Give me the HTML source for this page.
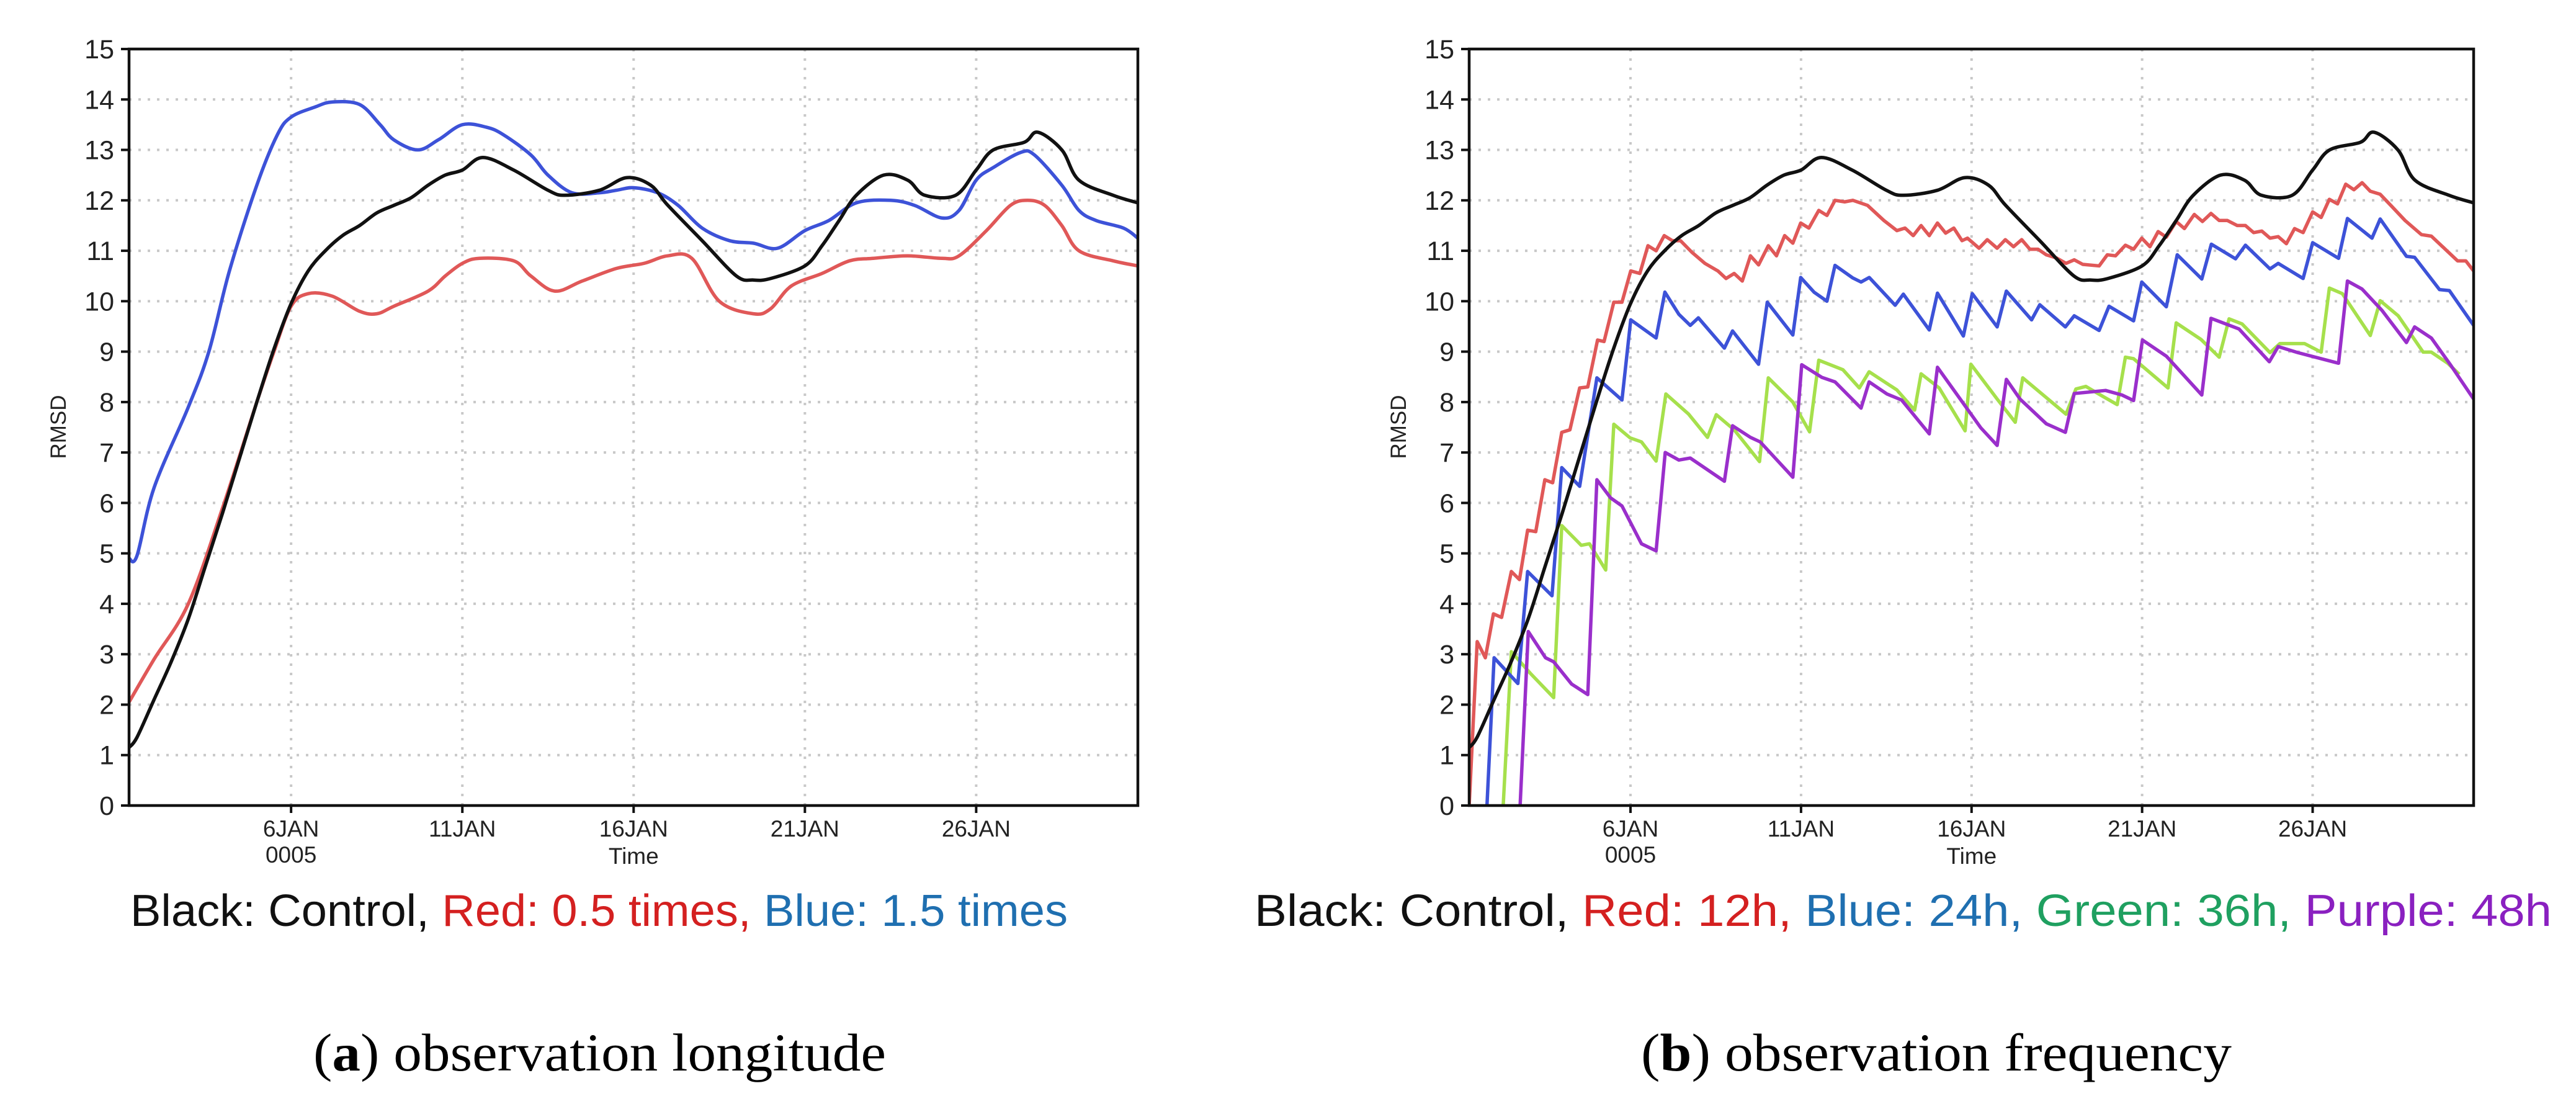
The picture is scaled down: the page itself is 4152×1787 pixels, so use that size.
<!DOCTYPE html>
<html><head><meta charset="utf-8"><style>
html,body{margin:0;padding:0;background:#fff;}
svg{display:block;}
</style></head><body>
<svg id="fig" width="4152" height="1787" viewBox="0 0 4152 1787" xmlns="http://www.w3.org/2000/svg">
<rect width="4152" height="1787" fill="#fff"/>
<g id="panelA"></g>
<g id="panelB"></g>
<text x="210" y="1492" font-family="Liberation Sans, sans-serif" font-size="72" textLength="1511" lengthAdjust="spacingAndGlyphs"><tspan fill="#111">Black: Control, </tspan><tspan fill="#d42020">Red: 0.5 times, </tspan><tspan fill="#1f6fb0">Blue: 1.5 times</tspan></text>
<text x="2022" y="1492" font-family="Liberation Sans, sans-serif" font-size="72" textLength="2091" lengthAdjust="spacingAndGlyphs"><tspan fill="#111">Black: Control, </tspan><tspan fill="#d42020">Red: 12h, </tspan><tspan fill="#1f6fb0">Blue: 24h, </tspan><tspan fill="#1fa060">Green: 36h, </tspan><tspan fill="#8a20c0">Purple: 48h</tspan></text>
<text x="505" y="1725" font-family="Liberation Serif, serif" font-size="86" fill="#000" textLength="923" lengthAdjust="spacingAndGlyphs">(<tspan font-weight="bold">a</tspan>) observation longitude</text>
<text x="2645" y="1725" font-family="Liberation Serif, serif" font-size="86" fill="#000" textLength="952" lengthAdjust="spacingAndGlyphs">(<tspan font-weight="bold">b</tspan>) observation frequency</text>
</svg>
<script>
// ---- shared axis data ----
const yTicks = [0,1,2,3,4,5,6,7,8,9,10,11,12,13,14,15];
const xTickDays = [6,11,16,21,26];
const xTickLabels = ["6JAN","11JAN","16JAN","21JAN","26JAN"];
const xDomain = [1.27, 30.72];
const yDomain = [0, 15];

// ---- control (black), used in both panels ----
const ctrlDays = [1.27,1.5,2,2.5,3,3.5,4,4.5,5,5.5,6,6.5,7,7.5,8,8.5,9,9.5,10,10.5,11,11.6,12.5,13.5,14,15,15.8,16.5,17,18,19,19.5,20,21,21.5,22,22.5,23.3,24,24.5,25.4,26,26.5,27.4,27.8,28.5,29,30,30.72];
const ctrlVals = [1.15,1.35,2.1,2.85,3.7,4.75,5.8,6.9,8.0,9.05,9.95,10.6,11.0,11.3,11.5,11.75,11.9,12.05,12.3,12.5,12.6,12.85,12.6,12.2,12.1,12.2,12.45,12.3,11.9,11.2,10.5,10.42,10.45,10.7,11.1,11.6,12.1,12.5,12.4,12.1,12.1,12.6,13.0,13.15,13.35,13.0,12.4,12.1,11.95];

// ---- panel a ----
const redADays = [1.27,2,3,4,5,5.5,6,6.5,7.2,8,8.5,9,10,10.5,11,11.5,12.5,13,13.7,14.5,15.5,16.3,17,17.7,18.5,19.5,20,20.6,21.5,22.3,23,24,25,25.5,26.3,27,27.5,28,28.5,29,30,30.72];
const redAVals = [2.05,2.9,4.0,5.9,8.0,9.0,9.9,10.15,10.1,9.8,9.75,9.9,10.2,10.5,10.75,10.85,10.8,10.5,10.2,10.4,10.65,10.75,10.9,10.85,10.0,9.75,9.85,10.3,10.55,10.8,10.85,10.9,10.85,10.9,11.4,11.9,12.0,11.9,11.5,11.0,10.8,10.7];
const blueADays = [1.27,1.5,2,3,3.6,4.2,5,5.6,6,6.7,7.2,8,8.6,9,9.7,10.3,11,11.7,12.2,13,13.5,14.2,15,15.5,16,16.7,17.3,18,18.8,19.5,20.2,21,21.7,22.5,23.5,24.2,25,25.5,26,26.5,27.3,27.7,28.5,29,29.5,30.3,30.72];
const blueAVals = [4.9,4.95,6.3,7.9,9.0,10.6,12.3,13.3,13.65,13.85,13.95,13.9,13.5,13.2,13.0,13.2,13.5,13.45,13.3,12.9,12.5,12.15,12.15,12.2,12.25,12.15,11.9,11.45,11.2,11.15,11.05,11.4,11.6,11.95,12.0,11.9,11.65,11.8,12.4,12.65,12.95,12.9,12.3,11.8,11.6,11.45,11.25];

// ---- panel b ----
const red12Days = [1.27,1.505,1.744,1.982,2.221,2.507,2.745,2.984,3.222,3.489,3.718,3.985,4.224,4.51,4.748,5.034,5.225,5.511,5.75,6.007,6.274,6.512,6.751,6.989,7.228,7.466,7.8,8.181,8.563,8.801,9.04,9.278,9.517,9.755,10.04,10.28,10.52,10.76,10.99,11.23,11.52,11.76,11.996,12.28,12.52,12.95,13.43,13.81,14.05,14.29,14.52,14.76,15.0,15.24,15.48,15.72,15.88,16.22,16.46,16.75,16.99,17.23,17.47,17.71,17.95,18.19,18.48,18.77,19.01,19.26,19.74,19.98,20.22,20.51,20.75,20.99,21.23,21.47,21.71,22.0,22.24,22.53,22.77,23.02,23.26,23.5,23.79,24.03,24.27,24.51,24.75,24.99,25.23,25.47,25.72,26.0,26.25,26.49,26.73,26.97,27.21,27.45,27.69,27.98,28.32,28.71,29.19,29.48,29.81,30.25,30.49,30.72];
const red12Vals = [0,3.25,2.93,3.8,3.73,4.64,4.48,5.46,5.43,6.46,6.4,7.4,7.45,8.28,8.3,9.23,9.2,9.98,9.98,10.6,10.55,11.1,11.0,11.3,11.2,11.2,10.97,10.75,10.6,10.45,10.55,10.4,10.9,10.72,11.1,10.9,11.3,11.15,11.55,11.45,11.8,11.7,12.0,11.97,12.0,11.9,11.6,11.4,11.45,11.3,11.5,11.3,11.55,11.35,11.45,11.2,11.25,11.05,11.22,11.05,11.22,11.08,11.22,11.03,11.03,10.92,10.86,10.75,10.82,10.73,10.7,10.92,10.9,11.11,11.03,11.25,11.08,11.38,11.27,11.58,11.44,11.72,11.58,11.74,11.6,11.6,11.5,11.5,11.36,11.39,11.25,11.28,11.14,11.44,11.36,11.77,11.66,12.02,11.93,12.32,12.21,12.35,12.18,12.12,11.88,11.6,11.32,11.29,11.08,10.8,10.8,10.6];
const blue24Days = [1.792,2.001,2.698,2.984,3.699,3.985,4.51,5.015,5.75,6.007,6.751,7.008,7.418,7.752,7.99,8.753,8.992,9.755,10.01,10.76,10.99,11.38,11.76,11.996,12.52,12.76,13.0,13.76,14.0,14.76,15.0,15.76,16.02,16.75,17.02,17.76,18.0,18.75,19.01,19.74,20.03,20.75,20.99,21.71,22.03,22.75,23.03,23.74,24.03,24.75,24.99,25.72,26.0,26.76,27.02,27.74,27.98,28.75,28.99,29.72,30.01,30.72];
const blue24Vals = [0,2.93,2.42,4.64,4.16,6.7,6.33,8.48,8.04,9.63,9.27,10.18,9.74,9.52,9.67,9.07,9.41,8.75,9.98,9.33,10.47,10.18,10.0,10.71,10.46,10.38,10.47,9.92,10.14,9.43,10.16,9.31,10.15,9.49,10.2,9.63,9.93,9.49,9.71,9.42,9.9,9.61,10.38,9.89,10.92,10.44,11.13,10.84,11.11,10.64,10.75,10.45,11.16,10.85,11.64,11.25,11.63,10.89,10.87,10.23,10.21,9.52];
const green36Days = [2.268,2.507,3.079,3.747,3.985,4.557,4.796,5.273,5.511,5.988,6.322,6.751,7.037,7.705,8.258,8.515,9.04,9.783,10.04,10.76,11.25,11.52,12.23,12.71,12.997,13.81,14.33,14.52,15.05,15.81,15.98,16.75,17.28,17.5,18.77,19.06,19.35,19.83,20.27,20.51,20.75,21.76,22.0,22.73,23.26,23.55,23.93,24.75,25.04,25.76,26.25,26.49,26.87,27.69,27.98,28.51,29.24,29.48,29.96,30.3];
const green36Vals = [0,3.05,2.61,2.14,5.55,5.16,5.19,4.67,7.56,7.29,7.21,6.83,8.16,7.76,7.3,7.75,7.45,6.82,8.48,8.0,7.41,8.83,8.64,8.28,8.6,8.24,7.84,8.56,8.28,7.43,8.75,8.06,7.6,8.48,7.76,8.26,8.31,8.12,7.95,8.89,8.86,8.28,9.57,9.24,8.89,9.65,9.55,8.98,9.16,9.16,8.99,10.26,10.15,9.32,10.01,9.71,8.99,8.99,8.77,8.55];
const purple48Days = [2.764,3.003,3.508,3.747,4.271,4.748,5.015,5.416,5.75,6.322,6.751,7.018,7.418,7.752,8.753,8.992,9.517,9.803,10.76,11.02,11.61,11.996,12.76,12.997,13.52,13.95,14.76,15.0,16.27,16.75,17.02,17.42,18.19,18.75,19.01,19.93,20.41,20.75,21.01,21.71,22.75,23.02,23.84,24.73,24.99,25.57,26.76,27.02,27.45,28.03,28.75,28.99,29.48,30.06,30.72];
const purple48Vals = [0,3.45,2.93,2.85,2.41,2.2,6.46,6.1,5.94,5.19,5.05,7.0,6.85,6.89,6.43,7.53,7.3,7.21,6.51,8.74,8.49,8.4,7.88,8.4,8.16,8.04,7.37,8.69,7.49,7.14,8.45,8.06,7.57,7.4,8.17,8.23,8.14,8.03,9.23,8.91,8.14,9.66,9.45,8.8,9.1,8.98,8.77,10.4,10.24,9.82,9.18,9.49,9.27,8.72,8.06];

const NS = "http://www.w3.org/2000/svg";
function mk(tag, attrs, parent){ const e=document.createElementNS(NS,tag); for(const k in attrs) e.setAttribute(k,attrs[k]); parent.appendChild(e); return e; }

function drawPanel(g, X0, X1, Y0, Y1, series){
  const sx = d => X0 + (d - xDomain[0])/(xDomain[1]-xDomain[0])*(X1-X0);
  const sy = v => Y1 - (v - yDomain[0])/(yDomain[1]-yDomain[0])*(Y1-Y0);
  const cid = "clip"+X0;
  const defs = mk("defs",{},g);
  const cp = mk("clipPath",{id:cid},defs);
  mk("rect",{x:X0,y:Y0,width:X1-X0,height:Y1-Y0},cp);
  const grid = mk("g",{},g);
  
  
  yTicks.forEach(t=>{ if(t===0||t===15) return;
    const l=mk("line",{x1:X0,x2:X1,y1:sy(t),y2:sy(t),stroke:"#c8c8c8","stroke-width":4,"stroke-dasharray":"4 11"},grid);
    
    
  });
  xTickDays.forEach(d=>{
    const l=mk("line",{x1:sx(d),x2:sx(d),y1:Y0,y2:Y1,stroke:"#c8c8c8","stroke-width":4,"stroke-dasharray":"4 11"},grid);
    
    
  });
  series.forEach(s=>{
    let d="";
    if(s.smooth){
      const P = s.days.map((x,i)=>[sx(x),sy(s.vals[i])]);
      d = "M"+P[0][0]+","+P[0][1];
      for(let i=0;i<P.length-1;i++){
        const p0=P[Math.max(0,i-1)],p1=P[i],p2=P[i+1],p3=P[Math.min(P.length-1,i+2)];
        const c1=[p1[0]+(p2[0]-p0[0])/6,p1[1]+(p2[1]-p0[1])/6];
        const c2=[p2[0]-(p3[0]-p1[0])/6,p2[1]-(p3[1]-p1[1])/6];
        d+=" C"+c1[0]+","+c1[1]+" "+c2[0]+","+c2[1]+" "+p2[0]+","+p2[1];
      }
    } else {
      d = s.days.map((x,i)=>(i?"L":"M")+sx(x)+","+sy(s.vals[i])).join(" ");
    }
    const p = mk("path",{d:d,fill:"none",stroke:s.color,"stroke-width":5.5,"stroke-linejoin":"round","clip-path":"url(#"+cid+")"},g);
    
    
  });
  const fr = mk("rect",{x:X0,y:Y0,width:X1-X0,height:Y1-Y0,fill:"none",stroke:"#111","stroke-width":4.5},g);
  
  
  yTicks.forEach(t=>{
    mk("line",{x1:X0-13,x2:X0,y1:sy(t),y2:sy(t),stroke:"#111","stroke-width":4},g);
    const tx = mk("text",{x:X0-24,y:sy(t)+15,"text-anchor":"end","font-family":"Liberation Sans, sans-serif","font-size":43,fill:"#222"},g);
    tx.textContent = String(t);
    
    
  });
  xTickDays.forEach((d,i)=>{
    mk("line",{x1:sx(d),x2:sx(d),y1:Y1,y2:Y1+12,stroke:"#111","stroke-width":4},g);
    const tx = mk("text",{x:sx(d),y:1348,"text-anchor":"middle","font-family":"Liberation Sans, sans-serif","font-size":37,fill:"#222"},g);
    tx.textContent = xTickLabels[i];
    
    
  });
  const yr = mk("text",{x:sx(6),y:1390,"text-anchor":"middle","font-family":"Liberation Sans, sans-serif","font-size":37,fill:"#222"},g);
  yr.textContent="0005";
  
  
  const xt = mk("text",{x:sx(16),y:1392,"text-anchor":"middle","font-family":"Liberation Sans, sans-serif","font-size":37,fill:"#222"},g);
  xt.textContent="Time";
  
  
  const yt = mk("text",{x:0,y:0,"text-anchor":"middle","font-family":"Liberation Sans, sans-serif","font-size":35,fill:"#222",transform:"translate("+(X0-102)+",688) rotate(-90)"},g);
  yt.textContent="RMSD";
  
  
}

drawPanel(document.getElementById('panelA'), 208, 1834, 79, 1298, [
  {name:'line-red-0.5-times', days:redADays, vals:redAVals, color:'#e05858', smooth:true},
  {name:'line-blue-1.5-times', days:blueADays, vals:blueAVals, color:'#3d52d8', smooth:true},
  {name:'line-black-control', days:ctrlDays, vals:ctrlVals, color:'#111', smooth:true}
]);
drawPanel(document.getElementById('panelB'), 2368, 3987, 79, 1298, [
  {name:'line-green-36h', days:green36Days, vals:green36Vals, color:'#a6e04c', smooth:false},
  {name:'line-purple-48h', days:purple48Days, vals:purple48Vals, color:'#9a2fcb', smooth:false},
  {name:'line-blue-24h', days:blue24Days, vals:blue24Vals, color:'#3d52d8', smooth:false},
  {name:'line-red-12h', days:red12Days, vals:red12Vals, color:'#e05858', smooth:false},
  {name:'line-black-control', days:ctrlDays, vals:ctrlVals, color:'#111', smooth:true}
]);
</script>
</body></html>
